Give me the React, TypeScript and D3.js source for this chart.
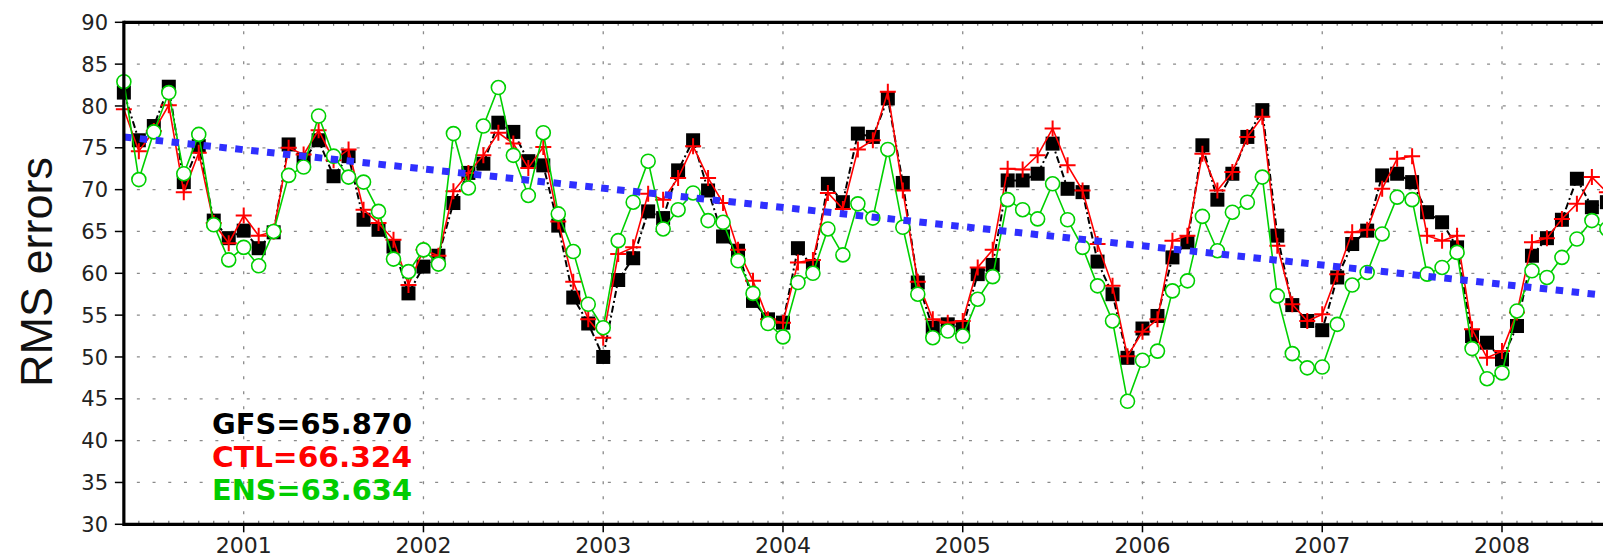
import React from 'react';
import * as d3 from 'd3';

const startYear = 2000;
const startMonthIndex = 4; // May (0-based)

const gfs = [
  81.6, 75.9, 77.6, 82.3, 70.9, 75.2, 66.3, 64.2, 65.1, 63.0,
  64.9, 75.4, 73.6, 75.9, 71.6, 74.0, 66.4, 65.2, 63.2, 57.6,
  60.8, 62.1, 68.4, 72.0, 73.1, 78.0, 76.9, 73.4, 72.9, 65.7,
  57.1, 54.0, 50.0, 59.2, 61.8, 67.4, 66.6, 72.3, 75.9, 69.9,
  64.4, 62.7, 56.7, 54.5, 54.1, 63.0, 60.7, 70.7, 68.5, 76.7,
  76.3, 80.9, 70.8, 58.9, 53.5, 53.9, 53.5, 59.9, 61.0, 71.1,
  71.1, 71.9, 75.5, 70.1, 69.7, 61.4, 57.5, 49.9, 53.4, 54.9,
  61.9, 63.7, 75.3, 68.8, 71.9, 76.3, 79.5, 64.5, 56.2, 54.3,
  53.2, 59.5, 63.5, 65.1, 71.7, 71.9, 70.9, 67.3, 66.1, 63.1,
  52.5, 51.7, 49.7, 53.7, 62.1, 64.2, 66.4, 71.3, 67.9, 68.5,
];
const ctl = [
  79.6, 74.6, 77.0, 80.1, 69.7, 74.4, 66.0, 63.6, 66.9, 64.5,
  65.0, 75.0, 74.2, 77.1, 73.5, 74.8, 67.6, 66.0, 64.0, 58.6,
  62.8, 62.1, 69.8, 72.0, 74.1, 76.8, 75.5, 72.6, 75.1, 66.2,
  59.0, 54.5, 52.3, 62.3, 63.1, 69.5, 68.8, 71.4, 75.2, 71.4,
  68.4, 62.8, 59.1, 54.5, 54.1, 61.3, 61.6, 69.6, 67.7, 74.8,
  75.9, 81.7, 69.9, 59.0, 54.5, 54.1, 54.3, 60.7, 62.8, 72.5,
  72.4, 74.1, 77.3, 72.9, 69.9, 63.5, 58.5, 50.1, 53.0, 54.5,
  63.9, 64.5, 74.3, 69.9, 72.1, 76.3, 78.7, 63.3, 56.3, 54.3,
  55.1, 59.9, 64.9, 65.2, 70.1, 73.7, 74.0, 64.5, 63.9, 64.5,
  53.3, 49.9, 50.7, 55.3, 63.7, 64.2, 66.5, 68.3, 71.5, 69.7,
];
const ens = [
  82.9, 71.2, 76.9, 81.6, 71.9, 76.6, 65.8, 61.6, 63.1, 60.9,
  65.0, 71.7, 72.7, 78.8, 74.0, 71.5, 70.9, 67.4, 61.7, 60.2,
  62.8, 61.1, 76.7, 70.2, 77.6, 82.2, 74.1, 69.3, 76.8, 67.1,
  62.6, 56.3, 53.5, 63.9, 68.5, 73.4, 65.3, 67.6, 69.6, 66.3,
  66.1, 61.5, 57.6, 54.0, 52.4, 58.9, 60.0, 65.3, 62.2, 68.3,
  66.6, 74.8, 65.5, 57.5, 52.3, 53.1, 52.5, 56.9, 59.6, 68.8,
  67.6, 66.5, 70.7, 66.4, 63.1, 58.5, 54.3, 44.7, 49.6, 50.7,
  57.9, 59.1, 66.8, 62.7, 67.3, 68.5, 71.5, 57.3, 50.4, 48.7,
  48.8, 53.9, 58.6, 60.1, 64.7, 69.1, 68.8, 59.9, 60.7, 62.5,
  51.0, 47.4, 48.1, 55.5, 60.3, 59.5, 61.9, 64.1, 66.3, 65.3,
];

const trendTimes = [2000.3333, 2008.5833];
const trendValues = [76.3, 57.35];

const yTicks = [30, 35, 40, 45, 50, 55, 60, 65, 70, 75, 80, 85, 90];
const yGrid = [35, 40, 45, 50, 55, 60, 65, 70, 75, 80, 85];
const yearTicks = [2001, 2002, 2003, 2004, 2005, 2006, 2007, 2008];
const legendLabels = ['GFS=65.870', 'CTL=66.324', 'ENS=63.634'];
const legendColors = ['#000000', '#ff0000', '#00cc00'];
const yTitle = 'RMS errors';

const W = 1603;
const H = 559;

export default function App() {
  const x = d3.scaleLinear().domain([2001, 2008]).range([243.7, 1502]);
  const y = d3.scaleLinear().domain([30, 90]).range([524.3, 22.3]);
  const left = x(2000.3333);
  const top = y(90);
  const bottom = y(30);

  const t = (i: number) => startYear + (startMonthIndex + i) / 12;
  const line = d3
    .line<number>()
    .x((_, i) => x(t(i)))
    .y((d) => y(d));

  const nMonths = Math.ceil((x.invert(W) - 2000.3333) * 12) + 1;
  const monthTimes = d3.range(nMonths).map((i) => t(i));

  const green = '#00d000';

  return (
    <svg
      width={W}
      height={H}
      style={{ position: 'absolute', left: 0, top: 0, background: '#fff' }}
      fontFamily="DejaVu Sans, sans-serif"
    >
      <rect x={0} y={0} width={W} height={H} fill="#fff" />
      {/* grid */}
      {yGrid.map((v) => (
        <line
          key={'hg' + v}
          x1={left}
          x2={W}
          y1={y(v)}
          y2={y(v)}
          stroke="#8a8a8a"
          strokeWidth={1.3}
          strokeDasharray="3 12.7"
          strokeDashoffset={-13}
        />
      ))}
      {yearTicks.map((yr) => (
        <line
          key={'vg' + yr}
          x1={x(yr)}
          x2={x(yr)}
          y1={top}
          y2={bottom}
          stroke="#8a8a8a"
          strokeWidth={1.3}
          strokeDasharray="3 12"
          strokeDashoffset={-9}
        />
      ))}
      {/* minor month ticks */}
      {monthTimes.map((mt, i) => (
        <g key={'mt' + i}>
          <line x1={x(mt)} x2={x(mt)} y1={top} y2={top + 3.5} stroke="#777" strokeWidth={1.2} />
          <line x1={x(mt)} x2={x(mt)} y1={bottom} y2={bottom - 3.5} stroke="#777" strokeWidth={1.2} />
        </g>
      ))}

      {/* GFS */}
      <path
        d={line(gfs) || ''}
        fill="none"
        stroke="#000"
        strokeWidth={2}
        strokeDasharray="7 3 2 3"
      />
      {gfs.map((v, i) => (
        <rect key={'g' + i} x={x(t(i)) - 7} y={y(v) - 7} width={14} height={14} fill="#000" />
      ))}

      {/* CTL */}
      <path d={line(ctl) || ''} fill="none" stroke="#ff0000" strokeWidth={1.6} />
      {ctl.map((v, i) => {
        const cx = x(t(i));
        const cy = y(v);
        return (
          <path
            key={'c' + i}
            d={`M${cx - 8},${cy}H${cx + 8}M${cx},${cy - 8}V${cy + 8}`}
            stroke="#ff0000"
            strokeWidth={2}
            fill="none"
          />
        );
      })}

      {/* ENS */}
      <path d={line(ens) || ''} fill="none" stroke={green} strokeWidth={1.6} />
      {ens.map((v, i) => (
        <circle
          key={'e' + i}
          cx={x(t(i))}
          cy={y(v)}
          r={7}
          fill="#fff"
          stroke={green}
          strokeWidth={1.6}
        />
      ))}

      {/* trend */}
      <line
        x1={x(trendTimes[0])}
        y1={y(trendValues[0])}
        x2={x(trendTimes[1])}
        y2={y(trendValues[1])}
        stroke="#2f2fff"
        strokeWidth={7}
        strokeDasharray="7.5 8.5"
      />

      {/* axes */}
      <line x1={left} x2={W} y1={top} y2={top} stroke="#000" strokeWidth={3.2} />
      <line x1={left} x2={W} y1={bottom} y2={bottom} stroke="#000" strokeWidth={3.2} />
      <line x1={left} x2={left} y1={top - 1.6} y2={bottom + 1.6} stroke="#000" strokeWidth={3.2} />

      {yTicks.map((v) => (
        <g key={'yt' + v}>
          <line x1={left - 9} x2={left} y1={y(v)} y2={y(v)} stroke="#000" strokeWidth={1.5} />
          <text
            x={108}
            y={y(v)}
            dy="0.36em"
            textAnchor="end"
            fontSize={21}
            fill="#222"
          >
            {v}
          </text>
        </g>
      ))}
      {yearTicks.map((yr) => (
        <g key={'xt' + yr}>
          <line x1={x(yr)} x2={x(yr)} y1={bottom} y2={bottom + 8} stroke="#000" strokeWidth={1.5} />
          <text x={x(yr)} y={553} textAnchor="middle" fontSize={22} fill="#222">
            {yr}
          </text>
        </g>
      ))}

      {/* y title */}
      <text
        transform="translate(52,272) rotate(-90)"
        textAnchor="middle"
        fontFamily="Liberation Sans, Arial, sans-serif"
        fontSize={44}
        fill="#111"
        textLength={230}
        lengthAdjust="spacingAndGlyphs"
      >
        {yTitle}
      </text>

      {/* legend */}
      {legendLabels.map((lab, i) => (
        <text
          key={lab}
          x={212}
          y={434 + i * 33}
          fontSize={28}
          fontWeight="600"
          fill={legendColors[i]}
          textLength={200}
          lengthAdjust="spacingAndGlyphs"
        >
          {lab}
        </text>
      ))}
    </svg>
  );
}
